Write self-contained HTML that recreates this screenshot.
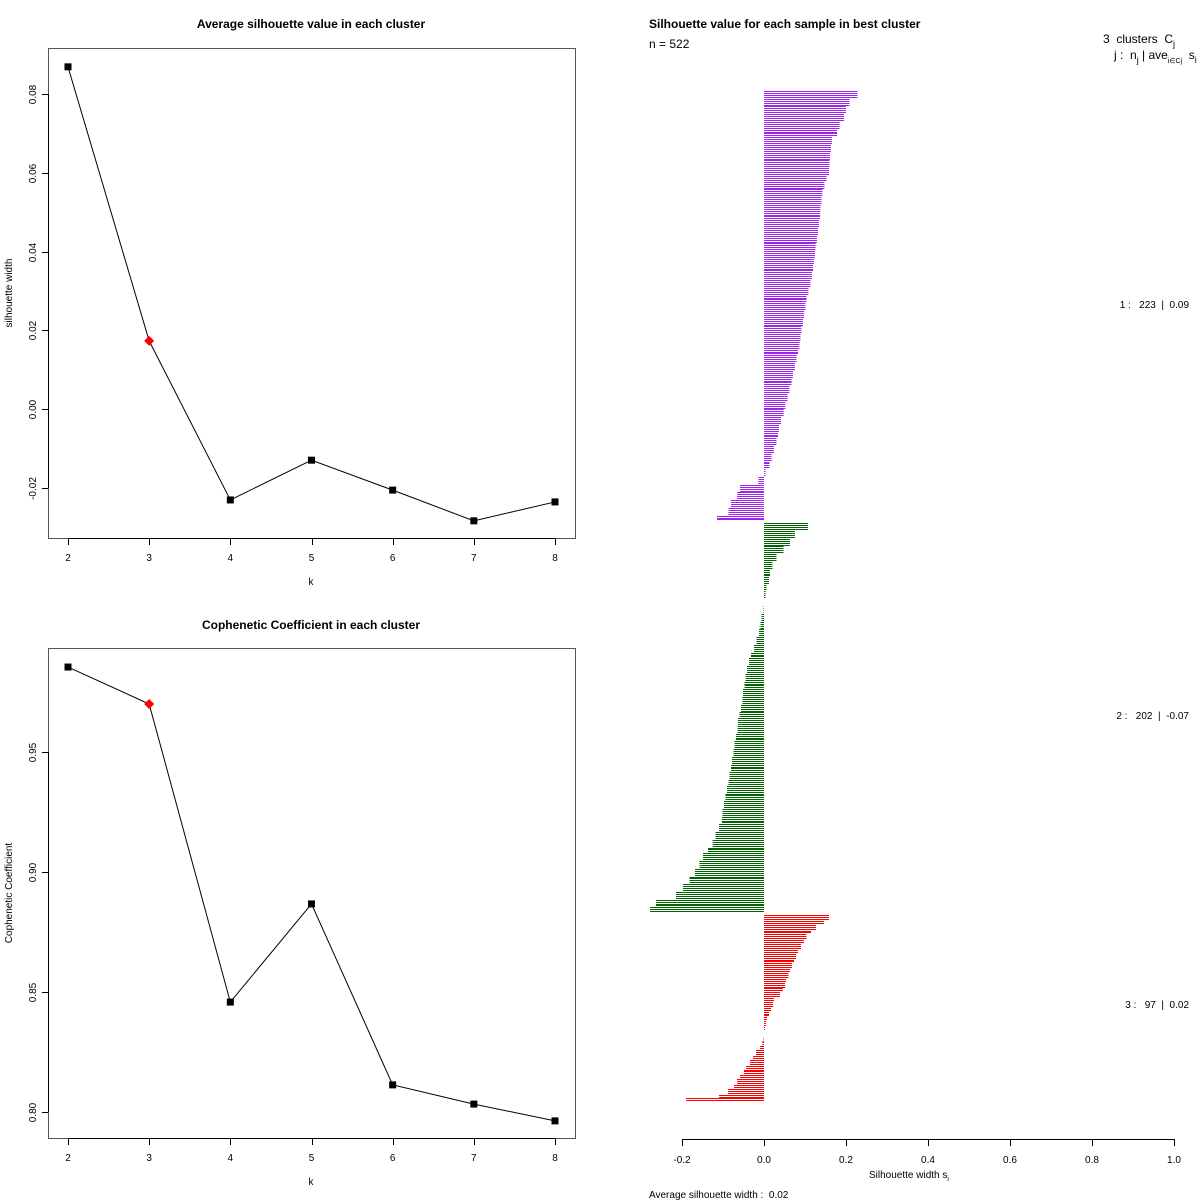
<!DOCTYPE html>
<html><head><meta charset="utf-8"><title>Silhouette</title>
<style>
html,body{margin:0;padding:0;background:#fff;}
svg{display:block;font-family:"Liberation Sans",Arial,sans-serif;}
text{white-space:pre;}
</style></head>
<body>
<svg id="root" width="1200" height="1200" viewBox="0 0 1200 1200" xmlns="http://www.w3.org/2000/svg">
<rect x="0" y="0" width="1200" height="1200" fill="#fff"/>
<g id="top"></g>
<g id="bot"></g>
<g id="sil"></g>
<text x="649" y="28" font-size="12" font-weight="bold">Silhouette value for each sample in best cluster</text>
<text x="649" y="48" font-size="12">n = 522</text>
<text x="1103" y="43" font-size="12">3  clusters  C<tspan font-size="9" baseline-shift="-4">j</tspan></text>
<text x="1114" y="59" font-size="12">j :  n<tspan font-size="9" baseline-shift="-4">j</tspan><tspan> | ave</tspan><tspan font-size="7" baseline-shift="-4">i∈Cj</tspan><tspan>  s</tspan><tspan font-size="9" baseline-shift="-4">i</tspan></text>
<text x="869" y="1178" font-size="10">Silhouette width s<tspan font-size="7" baseline-shift="-3">i</tspan></text>
<text x="649" y="1198" font-size="10">Average silhouette width :  0.02</text>
</svg>
<script>
// ---- data ----
const kValues = [2,3,4,5,6,7,8];
const avgSilhouette = [0.0869,0.0173,-0.0231,-0.0130,-0.0206,-0.0284,-0.0236];
const cophenetic = [0.9854,0.9700,0.8458,0.8867,0.8113,0.8033,0.7963];
const bestK = 3;
const topYTicks = [-0.02,0.00,0.02,0.04,0.06,0.08];
const topYLabels = ["-0.02","0.00","0.02","0.04","0.06","0.08"];
const botYTicks = [0.80,0.85,0.90,0.95];
const botYLabels = ["0.80","0.85","0.90","0.95"];
const clusterSizes = [223,202,97];
const clusterAvg = ["0.09","-0.07","0.02"];
const clusterColors = ["#a020f0","#006400","#ff0000"];
const cluster1Profile = [0.228,0.208,0.200,0.195,0.184,0.178,0.166,0.163,0.161,0.160,0.158,0.153,0.147,0.143,0.140,0.138,0.136,0.134,0.132,0.129,0.126,0.124,0.122,0.119,0.117,0.113,0.108,0.104,0.101,0.098,0.095,0.092,0.089,0.086,0.083,0.079,0.075,0.071,0.067,0.062,0.057,0.052,0.047,0.042,0.037,0.034,0.031,0.024,0.018,0.013,0.004,-0.013,-0.058,-0.066,-0.080,-0.086,-0.115];
const cluster2Profile = [0.107,0.076,0.064,0.048,0.031,0.021,0.015,0.012,0.006,0.004,0.0005,-0.001,-0.006,-0.009,-0.012,-0.018,-0.025,-0.032,-0.037,-0.041,-0.045,-0.047,-0.051,-0.053,-0.056,-0.060,-0.063,-0.065,-0.068,-0.072,-0.075,-0.078,-0.081,-0.084,-0.086,-0.090,-0.094,-0.098,-0.101,-0.103,-0.110,-0.118,-0.126,-0.137,-0.149,-0.157,-0.168,-0.182,-0.198,-0.215,-0.263,-0.278];
const cluster3Profile = [0.158,0.146,0.127,0.115,0.104,0.097,0.090,0.083,0.078,0.073,0.068,0.063,0.060,0.054,0.051,0.046,0.039,0.024,0.022,0.017,0.012,0.007,0.005,0.002,0.0005,-0.001,-0.004,-0.010,-0.020,-0.027,-0.034,-0.044,-0.049,-0.059,-0.066,-0.073,-0.088,-0.110,-0.190];
const silXTicks = [-0.2,0.0,0.2,0.4,0.6,0.8,1.0];
const silXLabels = ["-0.2","0.0","0.2","0.4","0.6","0.8","1.0"];

const NS="http://www.w3.org/2000/svg";
function mk(parent,tag,attrs,text){const e=document.createElementNS(NS,tag);for(const k in attrs)e.setAttribute(k,attrs[k]);if(text!==undefined)e.textContent=text;parent.appendChild(e);return e;}

function lineChart(g,vals,yT,yL,y0val,y0pix,yScale,boxTop,title,titleY,ytitle){
  const xs=k=>68+(k-2)*(555-68)/6;
  const ys=v=>y0pix-(v-y0val)*yScale;
  const bottom=boxTop+490;
  let e=mk(g,'rect',{x:48.5,y:boxTop+0.5,width:527,height:490,fill:'none',stroke:'#555','stroke-width':1});
  
  
  e=mk(g,'text',{x:311,y:titleY,'text-anchor':'middle','font-size':12,'font-weight':'bold'},title);
  
  
  e=mk(g,'line',{x1:xs(kValues[0]),x2:xs(kValues[kValues.length-1]),y1:bottom+0.5,y2:bottom+0.5,stroke:'#000'});
  
  
  kValues.forEach(k=>{
    mk(g,'line',{x1:Math.round(xs(k))+0.5,x2:Math.round(xs(k))+0.5,y1:bottom,y2:bottom+7,stroke:'#000'});
    const t=mk(g,'text',{x:xs(k),y:bottom+23,'text-anchor':'middle','font-size':10},String(k));
    
    
  });
  e=mk(g,'text',{x:311,y:bottom+47,'text-anchor':'middle','font-size':10},'k');
  
  
  e=mk(g,'line',{x1:48.5,x2:48.5,y1:ys(yT[0]),y2:ys(yT[yT.length-1]),stroke:'#000'});
  
  
  yT.forEach((v,i)=>{
    const y=Math.round(ys(v))+0.5;
    mk(g,'line',{x1:42,x2:48,y1:y,y2:y,stroke:'#000'});
    const t=mk(g,'text',{x:36,y:y,'text-anchor':'middle','font-size':10,transform:`rotate(-90 36 ${y})`},yL[i]);
    
    
  });
  e=mk(g,'text',{x:12,y:(boxTop+bottom)/2,'text-anchor':'middle','font-size':10,transform:`rotate(-90 12 ${(boxTop+bottom)/2})`},ytitle);
  
  
  const pts=vals.map((v,i)=>xs(kValues[i])+','+ys(v)).join(' ');
  e=mk(g,'polyline',{points:pts,fill:'none',stroke:'#000','stroke-width':1});
  
  
  vals.forEach((v,i)=>{
    const x=xs(kValues[i]),y=ys(v);
    let p;
    if(kValues[i]===bestK){
      p=mk(g,'polygon',{points:`${x},${y-5} ${x+5},${y} ${x},${y+5} ${x-5},${y}`,fill:'#ff0000'});
      
    }else{
      p=mk(g,'rect',{x:x-3.5,y:y-3.5,width:7,height:7,fill:'#000'});
      
    }
    
  });
}
lineChart(document.getElementById('top'),avgSilhouette,topYTicks,topYLabels,0,409,3937.5,48,'Average silhouette value in each cluster',28,'silhouette width');
lineChart(document.getElementById('bot'),cophenetic,botYTicks,botYLabels,0.95,752,2400,648,'Cophenetic Coefficient in each cluster',629,'Cophenetic Coefficient');

(function(){
  const g=document.getElementById('sil');
  const xs=v=>764+v*410;
  const pitch=1.93, y0=91;
  const profiles=[cluster1Profile,cluster2Profile,cluster3Profile];
  let slot=0;
  profiles.forEach((prof,c)=>{
    const n=clusterSizes[c];
    const cg=mk(g,'g',{});
    
    
    for(let i=0;i<n;i++){
      const v=prof[Math.min(prof.length-1,Math.floor(i*prof.length/n))];
      const y=Math.round(y0+slot*pitch);
      const x1=xs(0),x2=xs(v);
      const r=mk(cg,'rect',{x:Math.min(x1,x2),y:y,width:Math.max(0.01,Math.abs(x2-x1)),height:1,fill:clusterColors[c],'shape-rendering':'crispEdges'});
      
      
      slot++;
    }
    slot++;
  });
  let e=mk(g,'line',{x1:xs(silXTicks[0]),x2:xs(silXTicks[silXTicks.length-1]),y1:1139.5,y2:1139.5,stroke:'#000'});
  
  
  silXTicks.forEach((v,i)=>{
    const x=Math.round(xs(v))+0.5;
    mk(g,'line',{x1:x,x2:x,y1:1139,y2:1146,stroke:'#000'});
    const t=mk(g,'text',{x:xs(v),y:1163,'text-anchor':'middle','font-size':10},silXLabels[i]);
    
    
  });
  const labY=[305,716,1005];
  clusterSizes.forEach((n,c)=>{
    const t=mk(g,'text',{x:1189,y:labY[c]+3,'text-anchor':'end','font-size':10},`${c+1} :   ${n}  |  ${clusterAvg[c]}`);
    
    
  });
})();
</script>
</body></html>
